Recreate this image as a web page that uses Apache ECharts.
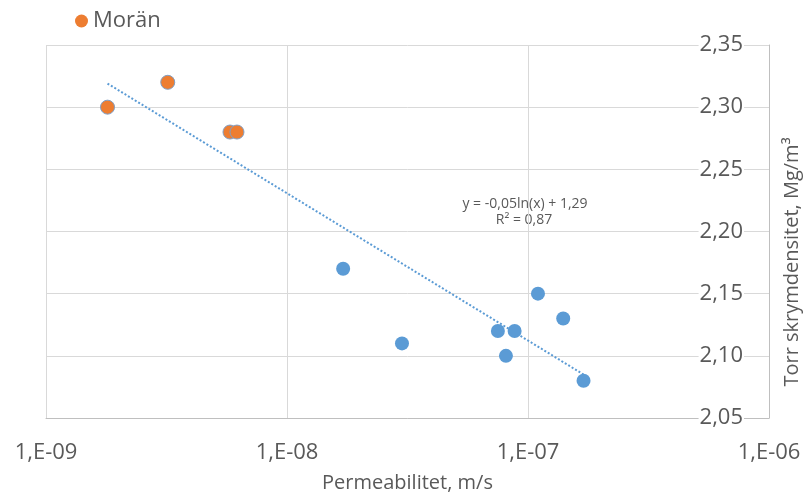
<!DOCTYPE html>
<html>
<head>
<meta charset="utf-8">
<script src="https://cdn.jsdelivr.net/npm/echarts@6/dist/echarts.min.js"></script>
<style>
  html, body { margin: 0; padding: 0; background: #fff; }
  #chart { width: 807px; height: 498px; }
</style>
</head>
<body>
<div id="chart"></div>
<script>
// Morän (orange)
var moranX = [1.8e-9, 3.2e-9, 5.8e-9, 6.2e-9];
var moranY = [2.30, 2.32, 2.28, 2.28];
// other samples (blue, no legend entry)
var otherX = [1.71e-8, 3.0e-8, 7.5e-8, 8.8e-8, 8.1e-8, 1.1e-7, 1.4e-7, 1.7e-7];
var otherY = [2.17, 2.11, 2.12, 2.12, 2.10, 2.15, 2.13, 2.08];
// trendline endpoints
var trendX = [1.8e-9, 1.7e-7];
var trendY = [2.319, 2.085];
var trendText = ['y = -0,05ln(x) + 1,29', 'R² = 0,87'];

function pairs(xs, ys) {
  return xs.map(function (x, i) { return [x, ys[i]]; });
}

var txt = '#595959';
var font = '"Open Sans", "Liberation Sans", sans-serif';

var chart = echarts.init(document.getElementById('chart'));
var option = {
  backgroundColor: '#fff',
  animation: false,
  textStyle: { fontFamily: font },
  legend: {
    data: ['Morän'],
    left: 70,
    top: 5,
    icon: 'circle',
    itemWidth: 13,
    itemHeight: 13,
    itemGap: 5,
    itemStyle: { borderWidth: 0 },
    textStyle: { fontSize: 22, color: txt, fontFamily: font }
  },
  grid: { left: 46, right: 38, top: 45, bottom: 79 },
  xAxis: {
    type: 'log',
    logBase: 10,
    min: 1e-9,
    max: 1e-6,
    name: 'Permeabilitet, m/s',
    nameLocation: 'middle',
    nameGap: 55,
    nameTextStyle: { fontSize: 20, color: txt, fontFamily: font },
    axisLine: { lineStyle: { color: '#bfbfbf', width: 1 } },
    axisTick: { show: false },
    splitLine: { show: true, lineStyle: { color: '#d9d9d9', width: 1 } },
    axisLabel: {
      fontSize: 22,
      color: txt,
      margin: 24,
      showMaxLabel: true,
      showMinLabel: true,
      formatter: function (v) {
        var e = Math.round(Math.log10(v));
        var s = (e < 0 ? '-' : '+') + (Math.abs(e) < 10 ? '0' : '') + Math.abs(e);
        return '1,E' + s;
      }
    }
  },
  yAxis: {
    type: 'value',
    position: 'right',
    min: 2.05,
    max: 2.35,
    interval: 0.05,
    axisLine: { show: true, lineStyle: { color: '#bfbfbf', width: 1 } },
    axisTick: { show: false },
    splitLine: { lineStyle: { color: '#d9d9d9', width: 1 } },
    axisLabel: {
      inside: true,
      margin: 25,
      fontSize: 22,
      color: txt,
      backgroundColor: '#fff',
      padding: [0, 1, 0, 1],
      formatter: function (v) { return v.toFixed(2).replace('.', ','); }
    }
  },
  graphic: [
    {
      type: 'text',
      x: 792,
      y: 262,
      rotation: Math.PI / 2,
      style: {
        text: 'Torr skrymdensitet, Mg/m³',
        font: '20px ' + font,
        fill: txt,
        align: 'center',
        verticalAlign: 'middle'
      }
    },
    {
      type: 'text',
      x: 525,
      y: 204,
      style: {
        text: trendText[0],
        font: '14px ' + font,
        fill: txt,
        align: 'center',
        verticalAlign: 'middle'
      }
    },
    {
      type: 'text',
      x: 524,
      y: 220,
      style: {
        text: trendText[1],
        font: '14px ' + font,
        fill: txt,
        align: 'center',
        verticalAlign: 'middle'
      }
    }
  ],
  series: [
    {
      name: 'trend',
      type: 'line',
      data: pairs(trendX, trendY),
      symbol: 'none',
      silent: true,
      z: 1,
      lineStyle: { color: '#5B9BD5', width: 2, type: [2, 2] }
    },
    {
      name: 'other',
      type: 'scatter',
      data: pairs(otherX, otherY),
      symbolSize: 14,
      z: 3,
      itemStyle: { color: '#5B9BD5', opacity: 1 }
    },
    {
      name: 'Morän',
      type: 'scatter',
      data: pairs(moranX, moranY),
      symbolSize: 14,
      z: 3,
      itemStyle: { color: '#ED7D31', borderColor: '#7f9fc6', borderWidth: 1, opacity: 1 }
    }
  ]
};
chart.setOption(option);
</script>
</body>
</html>
